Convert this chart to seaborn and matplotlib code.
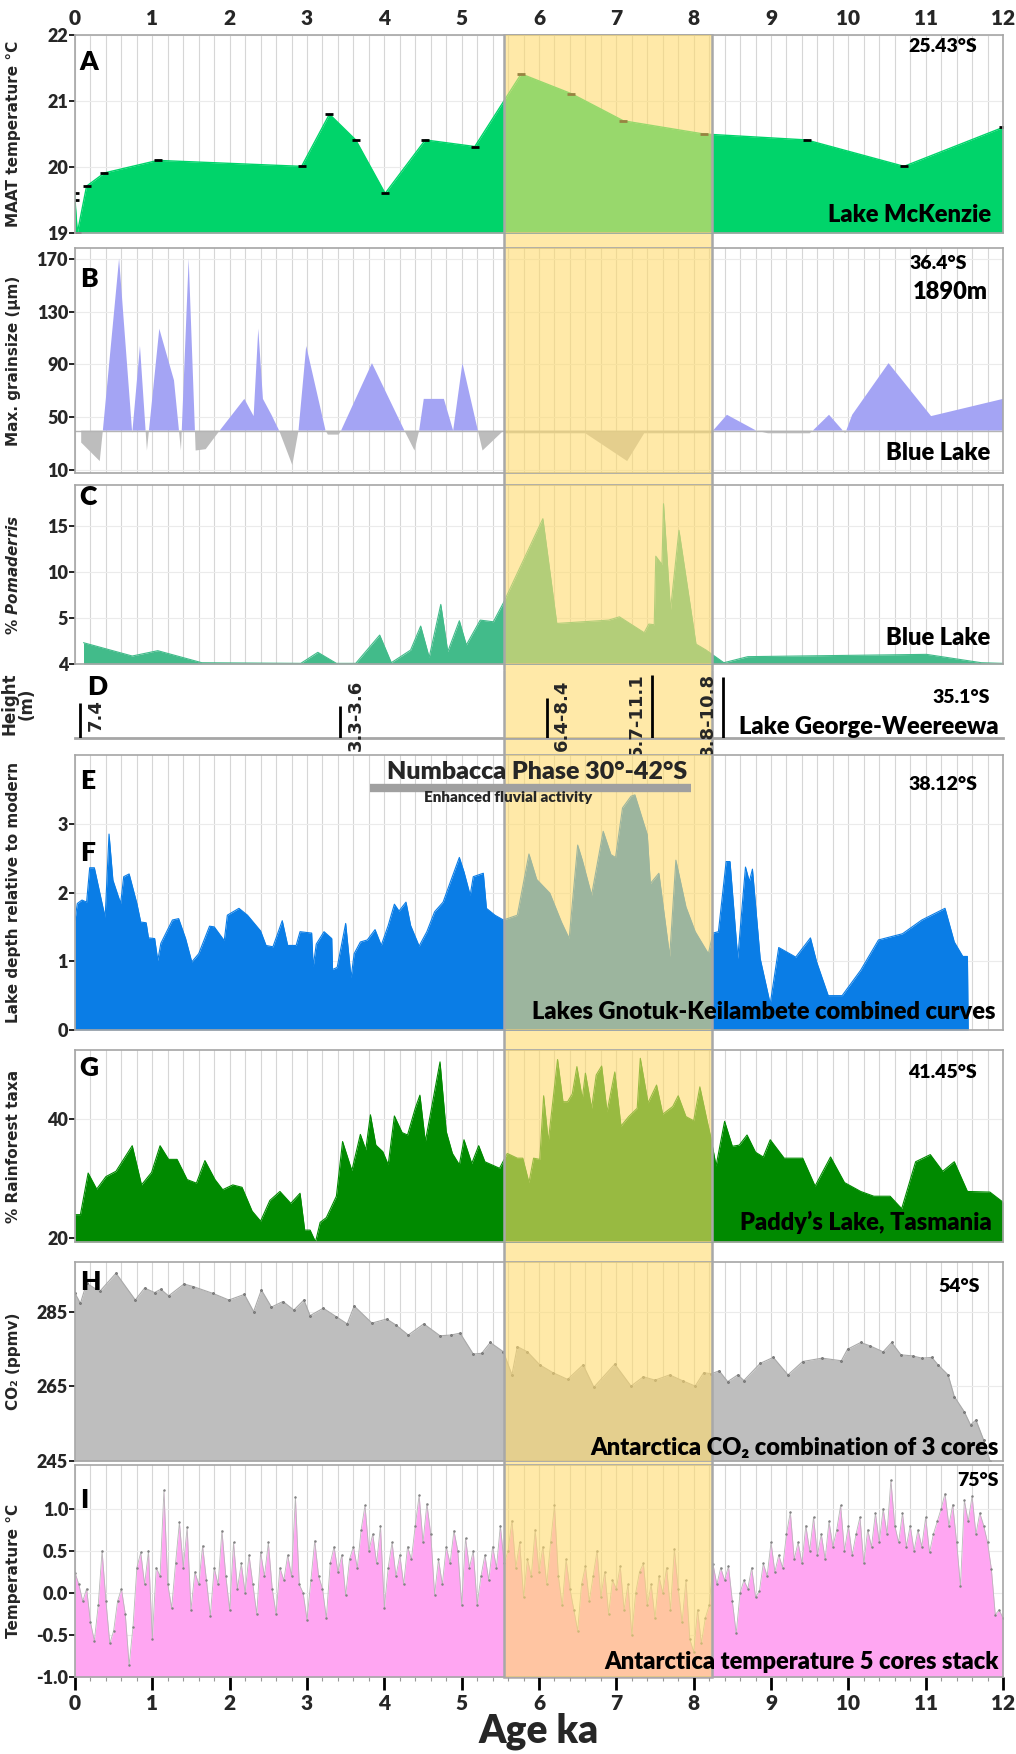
import numpy as np
import seaborn as sns
import matplotlib.pyplot as plt
from matplotlib import font_manager as fm
from matplotlib.ticker import MultipleLocator
from matplotlib.patches import Rectangle
from matplotlib.transforms import blended_transform_factory as blend

# ---- data ---------------------------------------------------------------
# A: Lake McKenzie MAAT
mck_age = [0.0, 0.0, 0.03, 0.15, 0.38, 1.07, 2.93, 3.29, 3.63, 4.01, 4.53, 5.17,
           5.77, 6.42, 7.09, 8.13, 9.46, 10.72, 12.0]
mck_temp = [19.6, 19.5, 19.0, 19.71, 19.91, 20.1, 20.01, 20.8, 20.41, 19.6, 20.41,
            20.31, 21.41, 21.11, 20.7, 20.5, 20.41, 20.01, 20.6]

# B: Blue Lake max grainsize (anomaly around 40 um)
blue_age = [0.08, 0.32, 0.36, 0.57, 0.74, 0.84, 0.93, 1.09, 1.28, 1.37, 1.47, 1.56,
            1.69, 1.87, 2.19, 2.31, 2.37, 2.43, 2.54, 2.64, 2.81, 2.89, 2.99, 3.24,
            3.27, 3.41, 3.44, 3.84, 4.26, 4.39, 4.45, 4.51, 4.77, 4.89, 5.01, 5.21,
            5.27, 5.54, 5.55, 6.60, 7.14, 7.36, 8.23, 8.25, 8.43, 8.81, 8.96, 9.50,
            9.54, 9.75, 9.96, 10.05, 10.52, 11.07, 12.0]
blue_grain = [31, 17, 40, 170, 38, 104, 25, 117, 78, 25, 170, 25,
              26, 40, 64, 51, 117, 64, 52, 40, 14, 40, 104, 40,
              37, 37, 40, 91, 40, 25, 40, 64, 64, 40, 91, 40,
              25, 40, 38, 38, 17, 38, 38, 40, 52, 40, 38, 38,
              40, 52, 38, 52, 91, 51, 64]
grain_ref = 40

# C: Blue Lake % Pomaderris (plotted on the panel's own tick positions)
pom_age = [0.11, 0.74, 1.07, 1.64, 2.92, 3.14, 3.38, 3.63, 3.94, 4.09, 4.34, 4.47,
           4.58, 4.73, 4.82, 4.97, 5.06, 5.24, 5.41, 5.54, 6.05, 6.23, 6.90, 7.04,
           7.36, 7.42, 7.49, 7.51, 7.59, 7.61, 7.70, 7.81, 8.03, 8.16, 8.39, 8.70,
           11.01, 11.72, 12.0]
pom_val = [2.32, 0.87, 1.45, 0.14, 0.07, 1.27, 0.07, 0.07, 3.15, 0.14, 1.52, 4.13,
           0.72, 6.49, 1.34, 4.71, 2.07, 4.78, 4.60, 6.67, 15.83, 4.42, 4.78, 5.14,
           3.41, 4.35, 4.28, 11.74, 10.83, 17.46, 5.87, 14.57, 2.17, 1.52, 0.14, 0.80,
           1.05, 0.14, 0.07]
pom_ticks = [0, 5, 10, 15]
pom_ticklabels = ['4', '5', '10', '15']

# D: Lake George-Weereewa high stands
lg_age = [0.065, 3.43, 6.10, 7.46, 8.38]
lg_height = [6.1, 5.7, 7.0, 11.2, 10.7]
lg_label = ['7.4', '3.3-3.6', '6.4-8.4', '5.7-11.1', '8.8-10.8']
lg_side = [1, 1, 1, -1, -1]

# E: Numbacca phase
numbacca_span = [3.82, 7.97]

# F: Lakes Gnotuk-Keilambete depth
gk_age = [0.00, 0.03, 0.09, 0.15, 0.19, 0.25, 0.36, 0.39, 0.44, 0.49, 0.59, 0.63,
          0.70, 0.80, 0.85, 0.92, 0.95, 1.03, 1.07, 1.11, 1.26, 1.34, 1.43, 1.51,
          1.60, 1.74, 1.80, 1.93, 1.97, 2.12, 2.23, 2.40, 2.47, 2.56, 2.68, 2.75,
          2.86, 2.91, 3.06, 3.08, 3.12, 3.22, 3.32, 3.33, 3.39, 3.50, 3.57, 3.61,
          3.69, 3.78, 3.88, 3.96, 4.05, 4.13, 4.19, 4.28, 4.34, 4.45, 4.55, 4.65,
          4.76, 4.84, 4.97, 5.03, 5.11, 5.15, 5.28, 5.32, 5.43, 5.54, 5.72, 5.87,
          5.97, 6.14, 6.29, 6.39, 6.50, 6.56, 6.68, 6.83, 6.93, 6.99, 7.08, 7.19,
          7.24, 7.40, 7.44, 7.55, 7.69, 7.77, 7.90, 8.02, 8.19, 8.25, 8.32, 8.42,
          8.47, 8.57, 8.67, 8.72, 8.76, 8.86, 8.99, 9.10, 9.32, 9.51, 9.59, 9.74,
          9.92, 10.16, 10.39, 10.70, 10.95, 11.25, 11.37, 11.48, 11.54, 11.55]
gk_depth = [1.60, 1.84, 1.89, 1.86, 2.36, 2.36, 1.79, 1.64, 2.85, 2.18, 1.84, 2.23,
            2.27, 1.84, 1.57, 1.56, 1.34, 1.33, 1.01, 1.26, 1.60, 1.62, 1.33, 0.99,
            1.11, 1.51, 1.50, 1.30, 1.67, 1.77, 1.67, 1.44, 1.23, 1.21, 1.59, 1.23,
            1.23, 1.43, 1.41, 0.92, 1.25, 1.43, 1.33, 0.88, 0.91, 1.55, 0.76, 1.11,
            1.28, 1.31, 1.46, 1.23, 1.52, 1.83, 1.73, 1.86, 1.52, 1.22, 1.43, 1.72,
            1.86, 2.11, 2.51, 2.30, 1.96, 2.23, 2.28, 1.77, 1.67, 1.60, 1.67, 2.56,
            2.19, 1.99, 1.57, 1.33, 2.69, 2.47, 1.96, 2.89, 2.55, 2.51, 3.23, 3.40,
            3.42, 2.84, 2.13, 2.28, 1.07, 2.47, 1.79, 1.43, 1.11, 1.41, 1.43, 2.45,
            2.45, 1.04, 2.37, 2.16, 2.34, 1.04, 0.38, 1.20, 1.06, 1.34, 0.99, 0.50,
            0.50, 0.87, 1.31, 1.40, 1.60, 1.77, 1.28, 1.07, 1.07, 0.0]

# G: Paddy's Lake rainforest taxa
pad_age = [0.00, 0.07, 0.17, 0.28, 0.40, 0.53, 0.74, 0.86, 0.99, 1.10, 1.21, 1.32,
           1.45, 1.57, 1.68, 1.81, 1.91, 2.04, 2.16, 2.29, 2.40, 2.52, 2.65, 2.79,
           2.91, 2.97, 3.04, 3.11, 3.17, 3.25, 3.38, 3.46, 3.58, 3.69, 3.76, 3.82,
           3.89, 3.98, 4.05, 4.13, 4.23, 4.30, 4.40, 4.46, 4.53, 4.59, 4.72, 4.80,
           4.88, 4.97, 5.03, 5.13, 5.22, 5.30, 5.49, 5.59, 5.72, 5.79, 5.87, 5.93,
           6.01, 6.06, 6.12, 6.24, 6.31, 6.37, 6.43, 6.49, 6.56, 6.60, 6.68, 6.74,
           6.81, 6.88, 6.98, 7.06, 7.16, 7.27, 7.31, 7.41, 7.52, 7.60, 7.73, 7.80,
           7.90, 8.00, 8.08, 8.17, 8.22, 8.29, 8.40, 8.50, 8.59, 8.69, 8.80, 8.90,
           8.99, 9.17, 9.41, 9.57, 9.77, 9.95, 10.16, 10.33, 10.54, 10.69, 10.87,
           11.06, 11.22, 11.37, 11.54, 11.83, 12.0]
pad_rain = [23.9, 23.9, 30.9, 28.2, 30.3, 31.2, 35.5, 28.9, 31.0, 35.5, 33.2, 33.2,
            29.8, 29.2, 33.0, 29.8, 28.1, 28.9, 28.5, 24.5, 22.8, 26.3, 27.8, 25.8,
            27.5, 21.3, 21.3, 19.3, 22.6, 23.4, 27.0, 36.2, 31.3, 37.4, 34.8, 40.7,
            35.6, 34.5, 32.3, 40.5, 37.7, 37.3, 41.8, 44.0, 36.2, 40.4, 49.6, 37.9,
            34.2, 32.3, 36.5, 32.5, 35.5, 32.8, 31.7, 34.2, 33.4, 33.4, 29.3, 33.4,
            33.2, 43.9, 36.2, 50.0, 42.9, 42.9, 44.2, 48.8, 43.4, 47.7, 41.8, 47.4,
            48.9, 41.2, 47.9, 38.8, 40.4, 41.8, 50.2, 42.7, 45.7, 40.8, 42.1, 43.9,
            40.4, 39.7, 45.4, 39.9, 37.0, 32.1, 39.6, 35.4, 35.6, 37.3, 34.4, 33.6,
            36.5, 33.4, 33.4, 28.7, 33.6, 29.3, 27.8, 27.0, 27.0, 24.9, 32.8,
            34.0, 31.2, 32.8, 27.8, 27.7, 26.0]

# H: Antarctic CO2
co2_age = [0.00, 0.07, 0.15, 0.32, 0.53, 0.78, 0.90, 1.03, 1.11, 1.21, 1.41, 1.53,
           1.78, 1.99, 2.19, 2.31, 2.41, 2.54, 2.69, 2.83, 2.96, 3.04, 3.21, 3.38,
           3.52, 3.61, 3.84, 4.03, 4.15, 4.31, 4.51, 4.72, 4.86, 4.98, 5.15, 5.26,
           5.37, 5.54, 5.65, 5.72, 5.85, 6.01, 6.18, 6.37, 6.57, 6.71, 6.98, 7.19,
           7.35, 7.50, 7.69, 7.86, 8.02, 8.13, 8.23, 8.33, 8.44, 8.57, 8.65, 8.86,
           9.03, 9.22, 9.41, 9.66, 9.91, 9.99, 10.16, 10.28, 10.45, 10.56, 10.68,
           10.83, 10.95, 11.08, 11.16, 11.29, 11.37, 11.50, 11.58, 11.65, 11.75, 11.83]
co2_ppm = [290.0, 287.3, 292.7, 290.5, 295.4, 288.2, 291.4, 290.2, 291.1, 289.3, 292.5,
           291.8, 290.0, 288.2, 289.7, 285.1, 290.9, 286.3, 287.8, 285.5, 288.2, 284.0,
           286.0, 283.7, 281.8, 286.6, 282.0, 283.1, 281.5, 278.8, 281.8, 278.6, 278.8,
           279.3, 273.7, 273.9, 276.8, 274.3, 268.1, 275.7, 274.3, 270.8, 268.7, 266.9,
           270.8, 264.8, 271.0, 265.1, 267.6, 266.7, 268.1, 266.5, 265.1, 268.7, 268.4,
           269.2, 266.3, 268.1, 266.6, 271.2, 272.8, 268.1, 271.7, 272.6, 271.9, 275.0,
           276.8, 275.9, 274.3, 276.8, 273.5, 273.2, 272.6, 272.8, 270.8, 268.1, 262.3,
           258.2, 254.7, 256.0, 250.6, 245.1]

# I: Antarctic temperature stack, one value every 0.05 ka
ant_step = 0.05
ant_temp = [
    0.24, 0.10, -0.10, 0.05, -0.35, -0.57, -0.15, 0.50, -0.10, -0.60,
    -0.45, -0.10, 0.05, -0.25, -0.86, -0.40, 0.30, 0.48, 0.10, 0.50,
    -0.55, 0.30, 0.20, 1.22, 0.10, -0.18, 0.35, 0.84, 0.30, 0.78,
    -0.20, 0.25, 0.10, 0.56, 0.15, -0.27, 0.30, 0.10, 0.74, 0.20,
    -0.20, 0.60, 0.05, 0.35, 0.00, 0.45, 0.10, -0.25, 0.48, 0.20,
    0.60, 0.05, -0.25, 0.30, 0.15, 0.45, 0.20, 1.14, 0.10, 0.00,
    -0.32, 0.15, 0.62, 0.20, 0.05, -0.30, 0.35, 0.55, 0.25, 0.45,
    -0.03, 0.40, 0.55, 0.30, 0.75, 1.04, 0.50, 0.70, 0.35, 0.80,
    -0.18, 0.30, 0.60, 0.20, 0.45, 0.10, 0.55, 0.40, 0.80, 1.16,
    0.60, 1.06, 0.70, -0.02, 0.40, 0.10, 0.55, 0.35, 0.74, 0.50,
    -0.14, 0.65, 0.30, 0.50, -0.14, 0.20, 0.45, 0.15, 0.55, 0.30,
    0.80, 0.35, 0.50, 0.86, 0.30, 0.60, -0.05, 0.40, 0.20, 0.75,
    0.25, 0.55, 0.10, 0.60, 1.04, 0.20, -0.15, 0.40, 0.05, -0.20,
    -0.45, 0.10, 0.32, -0.10, 0.20, 0.50, -0.05, 0.25, -0.25, 0.15,
    0.05, 0.32, -0.20, 0.10, -0.50, 0.00, 0.25, 0.35, -0.15, 0.10,
    -0.30, 0.20, 0.00, 0.30, -0.20, 0.52, 0.05, -0.35, 0.15, -0.55,
    -0.70, -0.20, -0.60, -0.30, -0.15, 0.34, 0.10, 0.30, 0.15, 0.32,
    -0.10, -0.48, 0.00, 0.15, 0.05, 0.30, -0.05, 0.02, 0.35, 0.20,
    0.60, 0.25, 0.45, 0.30, 0.70, 0.96, 0.40, 0.60, 0.35, 0.80,
    0.50, 0.90, 0.45, 0.70, 0.40, 0.85, 0.55, 0.75, 1.04, 0.50,
    0.80, 0.45, 0.70, 0.90, 0.35, 0.75, 0.55, 0.95, 0.60, 1.00,
    0.70, 1.34, 0.80, 0.60, 0.95, 0.55, 0.80, 0.50, 0.75, 0.55,
    0.90, 0.48, 0.70, 0.85, 1.00, 1.18, 0.80, 1.05, 0.60, 0.08,
    1.10, 0.85, 1.15, 0.70, 0.95, 0.80, 0.60, 0.28, -0.26, -0.20,
    -0.30]
ant_age = np.round(np.arange(len(ant_temp)) * ant_step, 2)

# highlighted interval
band_start, band_end = 5.55, 8.24


# ---- styling -------------------------------------------------------------
def pick_bold(prefs):
    # first family in prefs that really has a bold face installed
    for fam in prefs:
        for f in fm.fontManager.ttflist:
            w = f.weight if isinstance(f.weight, int) else fm.weight_dict.get(f.weight, 400)
            if f.name == fam and w >= 600:
                return fam
    return 'DejaVu Sans'


main_font = pick_bold(['Lato', 'Roboto', 'Open Sans', 'Noto Sans', 'Liberation Sans'])

sns.set_theme(style="white")
plt.rcParams['font.family'] = [main_font, 'DejaVu Sans']
plt.rcParams['font.weight'] = 'heavy'
plt.rcParams['axes.labelweight'] = 'heavy'
plt.rcParams['axes.unicode_minus'] = False
plt.rcParams['mathtext.fontset'] = 'custom'
plt.rcParams['mathtext.rm'] = 'DejaVu Sans:bold'
plt.rcParams['mathtext.it'] = 'DejaVu Sans:italic:bold'
plt.rcParams['mathtext.bf'] = 'DejaVu Sans:bold'

band_rgba = (1.0, 0.86, 0.43, 0.6)
FW, FH = 1016, 1754
fig = plt.figure(figsize=(FW / 100, FH / 100), dpi=100)


def panel(top, bottom):
    return fig.add_axes([75 / FW, 1 - bottom / FH, 928 / FW, (bottom - top) / FH])


def style(ax, ylim, yticks, yticklabels=None, ylabel=''):
    ax.set_xlim(0, 12)
    ax.set_ylim(*ylim)
    ax.xaxis.set_major_locator(MultipleLocator(1))
    ax.xaxis.set_minor_locator(MultipleLocator(0.2))
    ax.set_yticks(yticks)
    if yticklabels is not None:
        ax.set_yticklabels(yticklabels)
    ax.grid(True, which='both', axis='x', color='#D6D6D6', lw=0.8)
    ax.grid(True, which='major', axis='y', color='#EBEBEB', lw=0.8)
    ax.set_axisbelow(True)
    ax.tick_params(axis='x', which='both', length=0, labelbottom=False)
    ax.tick_params(axis='y', which='major', left=True, length=4, width=1.2,
                   color='black', pad=1, labelsize=13)
    for sp in ax.spines.values():
        sp.set_color('#A6A6A6')
        sp.set_linewidth(1.2)
    ax.set_xlabel('')
    ax.set_ylabel(ylabel, fontfamily='DejaVu Sans', fontsize=11, fontweight='bold')
    ax.yaxis.set_label_coords(-0.058, 0.5)


def add_band(ax):
    ax.axvspan(band_start, band_end, color=band_rgba, lw=0, zorder=5)
    for xb in (band_start, band_end):
        ax.axvline(xb, color='#A8A8A8', lw=1.8, zorder=6)


def note(ax, x, y, s, size=17, ha='right'):
    ax.text(x, y, s, transform=ax.transAxes, ha=ha, va='center', fontsize=size,
            color='black', zorder=10)


# A -------------------------------------------------------------------------
axA = panel(35, 233)
axA.fill_between(mck_age, mck_temp, 19, color='#00D46A', lw=0)
sns.lineplot(x=mck_age, y=mck_temp, ax=axA, estimator=None, sort=False,
             color='#00D46A', lw=1, marker='_', markersize=6,
             markeredgewidth=2, markeredgecolor='black')
style(axA, (19, 22), [19, 20, 21, 22], ylabel='MAAT temperature °C')
axA.tick_params(axis='x', which='major', top=True, labeltop=True, length=0,
                pad=5, labelsize=15)
add_band(axA)
note(axA, 0.005, 0.864, 'A', 19, 'left')
note(axA, 0.972, 0.944, '25.43°S', 14)
note(axA, 0.987, 0.091, 'Lake McKenzie')

# B -------------------------------------------------------------------------
axB = panel(248, 473)
bx = np.array(blue_age)
by = np.array(blue_grain, dtype=float)
axB.fill_between(bx, by, grain_ref, where=by >= grain_ref, interpolate=True,
                 color='#A4A4F4', lw=0)
axB.fill_between(bx, by, grain_ref, where=by <= grain_ref, interpolate=True,
                 color='#BDBDBD', lw=0)
axB.axhline(grain_ref, color='#B4B4B4', lw=1, zorder=2)
style(axB, (8, 178), [10, 50, 90, 130, 170], ylabel='Max. grainsize (µm)')
add_band(axB)
note(axB, 0.005, 0.862, 'B', 19, 'left')
note(axB, 0.961, 0.929, '36.4°S', 14)
note(axB, 0.984, 0.804, '1890m', 17)
note(axB, 0.986, 0.089, 'Blue Lake')

# C -------------------------------------------------------------------------
axC = panel(485, 664)
axC.fill_between(pom_age, pom_val, 0, color='#42BB8A', lw=0)
sns.lineplot(x=pom_age, y=pom_val, ax=axC, estimator=None, sort=False,
             color='#42BB8A', lw=0.8)
style(axC, (0, 19.5), pom_ticks, pom_ticklabels, ylabel='% $\\it{Pomaderris}$')
add_band(axC)
note(axC, 0.005, 0.933, 'C', 19, 'left')
note(axC, 0.986, 0.145, 'Blue Lake')

# D -------------------------------------------------------------------------
axD = panel(670, 738)
axD.set_xlim(0, 12)
axD.set_ylim(0, 12)
axD.set_xticks([])
axD.set_yticks([])
for name, sp in axD.spines.items():
    sp.set_visible(name == 'bottom')
axD.spines['bottom'].set_color('#A6A6A6')
axD.spines['bottom'].set_linewidth(2)
axD.vlines(lg_age, 0, lg_height, color='black', lw=2, zorder=10)
for a, lab, s in zip(lg_age, lg_label, lg_side):
    axD.annotate(lab, xy=(a, 4.0), xytext=(11 * s, 0), textcoords='offset points',
                 rotation=90, ha='center', va='center', fontsize=13,
                 fontfamily='DejaVu Sans', fontweight='bold', zorder=10,
                 annotation_clip=False)
axD.set_ylabel('Height\n(m)', fontfamily='DejaVu Sans', fontsize=12,
               fontweight='bold', linespacing=1.0)
axD.yaxis.set_label_coords(-0.042, 0.5)
add_band(axD)
note(axD, 0.013, 0.75, 'D', 19, 'left')
note(axD, 0.986, 0.60, '35.1°S', 14)
note(axD, 0.995, 0.16, 'Lake George-Weereewa')

# E / F ---------------------------------------------------------------------
axF = panel(755, 1030)
axF.fill_between(gk_age, gk_depth, 0, color='#0A7DE6', lw=0)
sns.lineplot(x=gk_age, y=gk_depth, ax=axF, estimator=None, sort=False,
             color='#0A7DE6', lw=0.8)
style(axF, (0, 4), [0, 1, 2, 3], ylabel='Lake depth relative to modern')
add_band(axF)
tF = blend(axF.transData, axF.transAxes)
axF.plot(numbacca_span, [0.88, 0.88], transform=tF, color='#A0A0A0', lw=6,
         solid_capstyle='butt', zorder=10)
axF.text(5.98, 0.938, 'Numbacca Phase 30°-42°S', transform=tF, ha='center',
         va='center', fontsize=18, zorder=10)
axF.text(5.6, 0.844, 'Enhanced fluvial activity', transform=tF, ha='center',
         va='center', fontsize=11, zorder=10)
note(axF, 0.005, 0.905, 'E', 19, 'left')
note(axF, 0.005, 0.644, 'F', 19, 'left')
note(axF, 0.972, 0.891, '38.12°S', 14)
note(axF, 0.992, 0.065, 'Lakes Gnotuk-Keilambete combined curves')

# G -------------------------------------------------------------------------
axG = panel(1050, 1242)
axG.fill_between(pad_age, pad_rain, 19.3, color='#008A00', lw=0)
sns.lineplot(x=pad_age, y=pad_rain, ax=axG, estimator=None, sort=False,
             color='#008A00', lw=0.8)
style(axG, (19.3, 51.6), [20, 40], ylabel='% Rainforest taxa')
add_band(axG)
note(axG, 0.005, 0.906, 'G', 19, 'left')
note(axG, 0.972, 0.885, '41.45°S', 14)
note(axG, 0.988, 0.104, 'Paddy’s Lake, Tasmania')

# H -------------------------------------------------------------------------
axH = panel(1262, 1461)
axH.fill_between(co2_age, co2_ppm, 245, color='#BEBEBE', lw=0)
sns.lineplot(x=co2_age, y=co2_ppm, ax=axH, estimator=None, sort=False,
             color='#A9A9A9', lw=0.8, marker='.', markersize=2.5,
             markeredgecolor='#707070')
style(axH, (245, 298.4), [245, 265, 285], ylabel='CO₂ (ppmv)')
add_band(axH)
note(axH, 0.005, 0.90, 'H', 19, 'left')
note(axH, 0.975, 0.879, '54°S', 14)
note(axH, 0.995, 0.065, 'Antarctica CO₂ combination of 3 cores')

# I -------------------------------------------------------------------------
axI = panel(1465, 1677)
axI.fill_between(ant_age, ant_temp, -1.0, color='#FFA6F2', lw=0)
sns.lineplot(x=ant_age, y=ant_temp, ax=axI, estimator=None, sort=False,
             color='#B8B8B8', lw=0.6, marker='.', markersize=2,
             markeredgecolor='#808080')
style(axI, (-1.0, 1.52), [-1.0, -0.5, 0.0, 0.5, 1.0],
      ['-1.0', '-0.5', '0.0', '0.5', '1.0'], ylabel='Temperature °C')
axI.tick_params(axis='x', which='major', bottom=True, labelbottom=True, length=9,
                width=2, color='black', pad=3, labelsize=15)
axI.tick_params(axis='x', which='minor', bottom=True, length=3, width=0.8,
                color='#999999')
axI.set_xlabel('Age ka', fontsize=28, labelpad=0)
add_band(axI)
note(axI, 0.005, 0.835, 'I', 19, 'left')
note(axI, 0.995, 0.929, '75°S', 14)
note(axI, 0.995, 0.071, 'Antarctica temperature 5 cores stack')

# band continuing through the gaps between panels
band_tr = blend(axI.transData, fig.transFigure)
fig.add_artist(Rectangle((band_start, 1 - 1677 / FH), band_end - band_start,
                         (1677 - 35) / FH, transform=band_tr, facecolor=band_rgba,
                         edgecolor='#A8A8A8', lw=1.8, zorder=-1))

fig.savefig('out.png', dpi=100)
